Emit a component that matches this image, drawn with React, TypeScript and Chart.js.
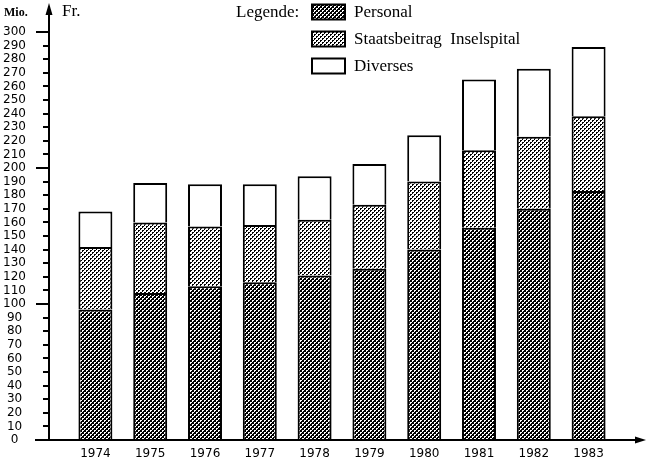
import { useEffect, useRef } from "react";
import { Chart, registerables } from "chart.js";

Chart.register(...registerables);

const years = ["1974", "1975", "1976", "1977", "1978", "1979", "1980", "1981", "1982", "1983"];
const personal = [96, 108, 113, 116, 121, 126, 140, 156, 170, 183];
const staatsbeitrag = [46, 52, 44, 42, 41, 47, 50, 57, 53, 55];
const diverses = [26, 29, 31, 30, 32, 30, 34, 52, 50, 51];
const seriesNames = ["Personal", "Staatsbeitrag  Inselspital", "Diverses"];
const legendTitle = "Legende:";
const unitLeft = "Mio.";
const unitRight = "Fr.";
const yMin = 0;
const yMax = 300;
const yStep = 10;

function makePattern(kind: "dark" | "light"): CanvasPattern | string {
  const c = document.createElement("canvas");
  c.width = 4;
  c.height = 4;
  const g = c.getContext("2d");
  if (!g) return kind === "dark" ? "#555" : "#ccc";
  const ink = kind === "dark" ? "#000" : "#fff";
  const paper = kind === "dark" ? "#fff" : "#000";
  g.fillStyle = ink;
  g.fillRect(0, 0, 4, 4);
  g.fillStyle = paper;
  [[0, 0], [1, 0], [0, 1], [2, 2], [3, 2], [2, 3]].forEach(([x, y]) => g.fillRect(x, y, 1, 1));
  return g.createPattern(c, "repeat") || "#888";
}

const axesPlugin = {
  id: "axesArrows",
  afterDraw(chart: any) {
    const { ctx, chartArea, scales } = chart;
    const y = scales.y;
    const x0 = chartArea.left - 19;
    const yBase = y.getPixelForValue(yMin);
    ctx.save();
    ctx.strokeStyle = "#000";
    ctx.fillStyle = "#000";
    ctx.lineWidth = 2;
    ctx.beginPath();
    ctx.moveTo(x0, yBase + 1);
    ctx.lineTo(x0, 12);
    ctx.stroke();
    ctx.beginPath();
    ctx.moveTo(x0, 3);
    ctx.lineTo(x0 - 3.5, 15);
    ctx.lineTo(x0 + 3.5, 15);
    ctx.closePath();
    ctx.fill();
    ctx.beginPath();
    ctx.moveTo(35, yBase);
    ctx.lineTo(chart.width - 8, yBase);
    ctx.stroke();
    ctx.beginPath();
    ctx.moveTo(chart.width - 1, yBase);
    ctx.lineTo(chart.width - 12, yBase - 3.5);
    ctx.lineTo(chart.width - 12, yBase + 3.5);
    ctx.closePath();
    ctx.fill();
    y.ticks.forEach((t: any) => {
      const py = Math.round(y.getPixelForValue(t.value));
      const major = t.value % 100 === 0;
      ctx.beginPath();
      ctx.lineWidth = 2;
      ctx.moveTo(x0 - (major ? 13 : 6), py);
      ctx.lineTo(x0, py);
      ctx.stroke();
    });
    ctx.textBaseline = "middle";
    ctx.textAlign = "left";
    ctx.font = "bold 12px 'Liberation Serif'";
    ctx.fillText(unitLeft, 4, 13);
    ctx.font = "17px 'Liberation Serif'";
    ctx.fillText(unitRight, 62, 12);
    ctx.restore();
  },
};

const legendPlugin = {
  id: "sideLegend",
  afterDraw(chart: any) {
    const { ctx } = chart;
    ctx.save();
    ctx.textBaseline = "middle";
    ctx.textAlign = "left";
    ctx.fillStyle = "#000";
    ctx.font = "17px 'Liberation Serif'";
    ctx.fillText(legendTitle, 236, 13);
    chart.data.datasets.forEach((ds: any, i: number) => {
      const cy = 12 + i * 27;
      ctx.fillStyle = ds.backgroundColor;
      ctx.fillRect(312, cy - 7.5, 33, 15);
      ctx.strokeStyle = "#000";
      ctx.lineWidth = 2;
      ctx.strokeRect(312, cy - 7.5, 33, 15);
      ctx.fillStyle = "#000";
      ctx.fillText(ds.label, 354, cy + 1);
    });
    ctx.restore();
  },
};

export default function App() {
  const ref = useRef<HTMLCanvasElement | null>(null);
  useEffect(() => {
    if (!ref.current) return;
    const dark = makePattern("dark");
    const light = makePattern("light");
    const common = {
      borderColor: "#000",
      borderWidth: 2,
      borderSkipped: "start" as const,
      barPercentage: 0.62,
      categoryPercentage: 1,
    };
    const chart = new Chart(ref.current, {
      type: "bar",
      data: {
        labels: years,
        datasets: [
          { label: seriesNames[0], data: personal, backgroundColor: dark as any, ...common },
          { label: seriesNames[1], data: staatsbeitrag, backgroundColor: light as any, ...common },
          { label: seriesNames[2], data: diverses, backgroundColor: "#fff", ...common },
        ],
      },
      options: {
        animation: false,
        responsive: true,
        maintainAspectRatio: false,
        layout: { padding: { top: 32, right: 31, left: 0, bottom: 0 } },
        plugins: { legend: { display: false }, tooltip: { enabled: false } },
        scales: {
          x: {
            stacked: true,
            grid: { display: false, drawTicks: false },
            border: { display: false },
            ticks: {
              color: "#000",
              font: { family: "'DejaVu Sans'", size: 12 },
              padding: 7,
              maxRotation: 0,
            },
            afterFit: (s: any) => {
              s.height = 23;
            },
          },
          y: {
            stacked: true,
            min: yMin,
            max: yMax,
            grid: { display: false, drawTicks: false },
            border: { display: false },
            ticks: {
              stepSize: yStep,
              autoSkip: false,
              color: "#000",
              crossAlign: "center",
              padding: 42,
              font: { family: "'DejaVu Sans'", size: 12 },
            },
            afterFit: (s: any) => {
              s.width = 68;
              s.paddingTop = 0;
              s.paddingBottom = 0;
            },
          },
        },
      },
      plugins: [axesPlugin, legendPlugin],
    });
    return () => chart.destroy();
  }, []);
  return (
    <div style={{ position: "fixed", left: 0, top: 0, width: 647, height: 463, background: "#fff" }}>
      <canvas ref={ref} />
    </div>
  );
}
